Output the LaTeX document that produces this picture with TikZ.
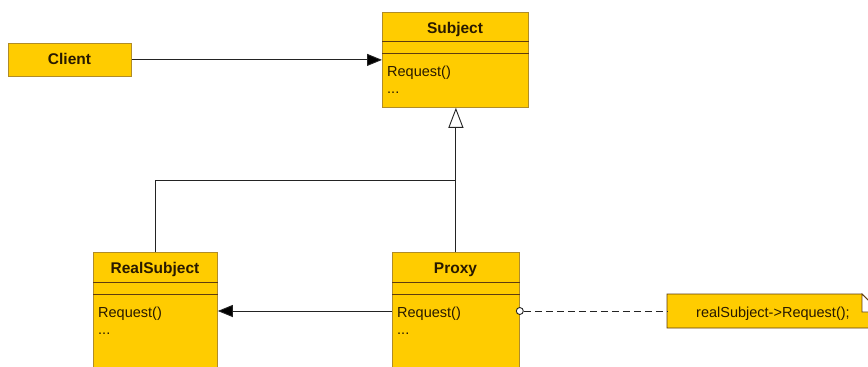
\documentclass[tikz,border=0pt]{standalone}
\usepackage{fontspec}
\setmainfont{Liberation Sans}
\usetikzlibrary{arrows.meta}
\definecolor{gold}{RGB}{255,204,0}
\definecolor{goldedge}{RGB}{176,140,40}
\definecolor{sepc}{RGB}{95,60,15}
\definecolor{ink}{RGB}{40,25,0}
\definecolor{wirec}{RGB}{35,35,35}
\tikzset{
 cls/.style={draw=goldedge, fill=gold, line width=0.8pt, anchor=north west, inner sep=0pt},
 ttl/.style={font=\fontsize{15.5}{18}\selectfont\bfseries, text=ink, inner sep=0pt, anchor=base},
 body/.style={font=\fontsize{14.5}{17}\selectfont, text=ink, inner sep=0pt, anchor=base west},
 sepline/.style={draw=sepc, line width=1pt},
 wire/.style={draw=wirec, line width=0.9pt},
 solidtip/.style={-{Triangle[length=15pt,width=12pt,fill=black]}},
 inherit/.style={-{Triangle[open,length=20pt,width=15pt,fill=white]}},
}
\begin{document}
\begin{tikzpicture}[x=1pt,y=-1pt]
\useasboundingbox (0,0) rectangle (868,367);
\clip (0,0) rectangle (868,367);
\fill[white] (0,0) rectangle (868,367);

% Client
\node[cls, minimum width=123pt, minimum height=33pt] (client) at (8,43) {};
\node[ttl] (clientT) at (69.5,64) {Client};

% Subject
\node[cls, minimum width=146pt, minimum height=95pt] (subj) at (382,12) {};
\node[ttl] (subjT) at (455,33) {Subject};
\draw[sepline] (subj.west |- 0,41.7) -- (subj.east |- 0,41.7);
\draw[sepline] (subj.west |- 0,53.3) -- (subj.east |- 0,53.3);
\node[body] (subjR) at (387,76) {Request()};
\node[body] (subjD) at (387,93) {...};

% RealSubject
\node[cls, minimum width=124pt, minimum height=150pt] (real) at (93,252) {};
\node[ttl] (realT) at (155,273) {RealSubject};
\draw[sepline] (real.west |- 0,282.7) -- (real.east |- 0,282.7);
\draw[sepline] (real.west |- 0,294.3) -- (real.east |- 0,294.3);
\node[body] (realR) at (98,317) {Request()};
\node[body] (realD) at (98,334) {...};

% Proxy
\node[cls, minimum width=127pt, minimum height=150pt] (proxy) at (392,252) {};
\node[ttl] (proxyT) at (455.5,273) {Proxy};
\draw[sepline] (proxy.west |- 0,282.7) -- (proxy.east |- 0,282.7);
\draw[sepline] (proxy.west |- 0,294.3) -- (proxy.east |- 0,294.3);
\node[body] (proxyR) at (397,317) {Request()};
\node[body] (proxyD) at (397,334) {...};

% Note
\coordinate (nA) at (667,294);
\coordinate (nB) at (862,294);
\coordinate (nC) at (880,312);
\coordinate (nD) at (880,328);
\coordinate (nE) at (667,328);
\coordinate (nF) at (862,312);
\node[inner sep=0pt, minimum width=213pt, minimum height=34pt, anchor=north west] (note) at (nA) {};
\draw[draw=sepc, fill=gold, line width=0.8pt] (nA) -- (nB) -- (nC) -- (nD) -- (nE) -- cycle;
\draw[draw=sepc, fill=white, line width=0.8pt] (nB) -- (nF) -- (nC) -- cycle;
\node[body] (noteT) at (696,317) {realSubject->Request();};

% connectors
\coordinate (row) at (0,311);
\coordinate (j) at (455.5,180);
\draw[wire, solidtip] (client.east) -- (client.east -| subj.west);
\draw[wire, inherit] (proxy.north) -- (proxy.north |- subj.south);
\draw[wire] (real.north) |- (j);
\draw[wire, solidtip] (proxy.west |- row) -- (real.east |- row);
\node[circle, draw=wirec, fill=white, line width=0.9pt, minimum size=7pt, inner sep=0pt] (dot) at (proxy.east |- row) {};
\draw[wire, dash pattern=on 7pt off 4pt] (dot.east) -- (note.west |- row);
\end{tikzpicture}
\end{document}
